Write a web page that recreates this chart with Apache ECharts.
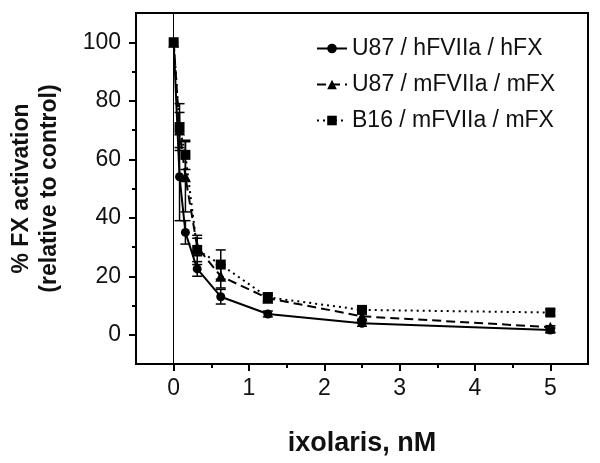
<!DOCTYPE html>
<html>
<head>
<meta charset="utf-8">
<script src="https://cdn.jsdelivr.net/npm/echarts@6/dist/echarts.min.js"></script>
<style>html,body{margin:0;padding:0;background:#fff}#c{width:600px;height:463px}</style>
</head>
<body>
<div id="c"></div>
<script>
var xValues = [0, 0.078, 0.156, 0.3125, 0.625, 1.25, 2.5, 5];
var hfxMean = [100, 54, 35, 22.5, 13, 7.1, 3.9, 1.6];
var hfxErr  = [0, 15, 4, 2.5, 2.5, 1, 1, 1];
var u87mMean = [100, 70, 54, 30, 20, 12.5, 6.3, 2.6];
var u87mErr  = [0, 6, 12, 3, 4, 1, 1, 0.5];
var b16Mean = [100, 71, 61.5, 29, 24, 12.8, 8.5, 7.6];
var b16Err  = [0, 8, 5, 5, 5, 1.5, 1, 1];
var seriesNames = ['U87 / hFVIIa / hFX', 'U87 / mFVIIa / mFX', 'B16 / mFVIIa / mFX'];
var yTickValues = [0, 20, 40, 60, 80, 100];
var yMinorValues = [10, 30, 50, 70, 90];
var xTickValues = [0, 1, 2, 3, 4, 5];
var xMinorValues = [0.5, 1.5, 2.5, 3.5, 4.5];

var FONT = 'Liberation Sans, Arial, sans-serif';

function pairs(ys){ return xValues.map(function(x,i){return [x, ys[i]];}); }
function errData(ys, es){ return xValues.map(function(x,i){return [x, ys[i]-es[i], ys[i]+es[i]];}); }

function errRender(params, api){
  var x = api.value(0), lo = api.value(1), hi = api.value(2);
  if (hi - lo <= 0) return null;
  var p1 = api.coord([x, lo]), p2 = api.coord([x, hi]);
  var w = 5;
  var st = {stroke:'#000', lineWidth:1.5};
  return {type:'group', children:[
    {type:'line', shape:{x1:p1[0], y1:p1[1], x2:p2[0], y2:p2[1]}, style:st},
    {type:'line', shape:{x1:p1[0]-w, y1:p1[1], x2:p1[0]+w, y2:p1[1]}, style:st},
    {type:'line', shape:{x1:p2[0]-w, y1:p2[1], x2:p2[0]+w, y2:p2[1]}, style:st}
  ]};
}

var chart = echarts.init(document.getElementById('c'), null, {renderer:'canvas'});
var axisLine = {show:true, onZero:false, lineStyle:{color:'#000', width:2}};
var option = {
  animation:false,
  backgroundColor:'#fff',
  textStyle:{fontFamily:FONT},
  grid:{left:135, right:12, top:13, bottom:99, show:true, borderColor:'#000', borderWidth:2, backgroundColor:'transparent'},
  legend:{
    data:seriesNames, orient:'vertical', left:311, top:32, itemGap:13,
    itemWidth:30, itemHeight:12,
    textStyle:{fontFamily:FONT, fontSize:23, color:'#111'},
    selectedMode:false
  },
  xAxis:[{
    type:'value', min:-0.5, max:5.5, position:'bottom',
    axisLine:axisLine,
    axisTick:{show:true, customValues:xTickValues, length:7, lineStyle:{color:'#000', width:2}},
    axisLabel:{customValues:xTickValues, fontSize:23, color:'#111', margin:13, fontFamily:FONT},
    splitLine:{show:false},
    name:'ixolaris, nM', nameLocation:'middle', nameGap:66,
    nameTextStyle:{fontSize:27, fontWeight:'bold', color:'#111', fontFamily:FONT}
  },{
    type:'value', min:-0.5, max:5.5, position:'bottom',
    axisLine:{show:false, onZero:false},
    axisTick:{show:true, customValues:xMinorValues, length:4, lineStyle:{color:'#000', width:2}},
    axisLabel:{show:false}, splitLine:{show:false}
  }],
  yAxis:[{
    type:'value', min:-10, max:110, position:'left',
    axisLine:axisLine,
    axisTick:{show:true, customValues:yTickValues, length:7, lineStyle:{color:'#000', width:2}},
    axisLabel:{customValues:yTickValues, fontSize:23, color:'#111', margin:15, fontFamily:FONT},
    splitLine:{show:false},
    name:'% FX activation\n(relative to control)', nameLocation:'middle', nameGap:72,
    nameTextStyle:{fontSize:23, fontWeight:'bold', color:'#111', lineHeight:28, fontFamily:FONT}
  },{
    type:'value', min:-10, max:110, position:'left',
    axisLine:{show:false, onZero:false},
    axisTick:{show:true, customValues:yMinorValues, length:4, lineStyle:{color:'#000', width:2}},
    axisLabel:{show:false}, splitLine:{show:false}
  }],
  series:[
    {type:'custom', renderItem:errRender, data:errData(hfxMean, hfxErr), z:3, silent:true,
     encode:{x:0, y:[1,2]}},
    {type:'custom', renderItem:errRender, data:errData(u87mMean, u87mErr), z:3, silent:true,
     encode:{x:0, y:[1,2]}},
    {type:'custom', renderItem:errRender, data:errData(b16Mean, b16Err), z:3, silent:true,
     encode:{x:0, y:[1,2]}},
    {name:seriesNames[0], type:'line', data:pairs(hfxMean), symbol:'circle', symbolSize:9,
     itemStyle:{color:'#000'}, lineStyle:{color:'#000', width:2, type:'solid'}, z:5,
     markLine:{silent:true, symbol:'none', label:{show:false},
       lineStyle:{color:'#000', width:1, type:'solid'}, data:[{xAxis:0}]}},
    {name:seriesNames[1], type:'line', data:pairs(u87mMean), symbol:'triangle', symbolSize:11,
     itemStyle:{color:'#000'}, lineStyle:{color:'#000', width:2, type:[9,5]}, z:5},
    {name:seriesNames[2], type:'line', data:pairs(b16Mean), symbol:'rect', symbolSize:10,
     itemStyle:{color:'#000'}, lineStyle:{color:'#000', width:2, type:[2,4]}, z:5}
  ]
};
chart.setOption(option);
</script>
</body>
</html>
